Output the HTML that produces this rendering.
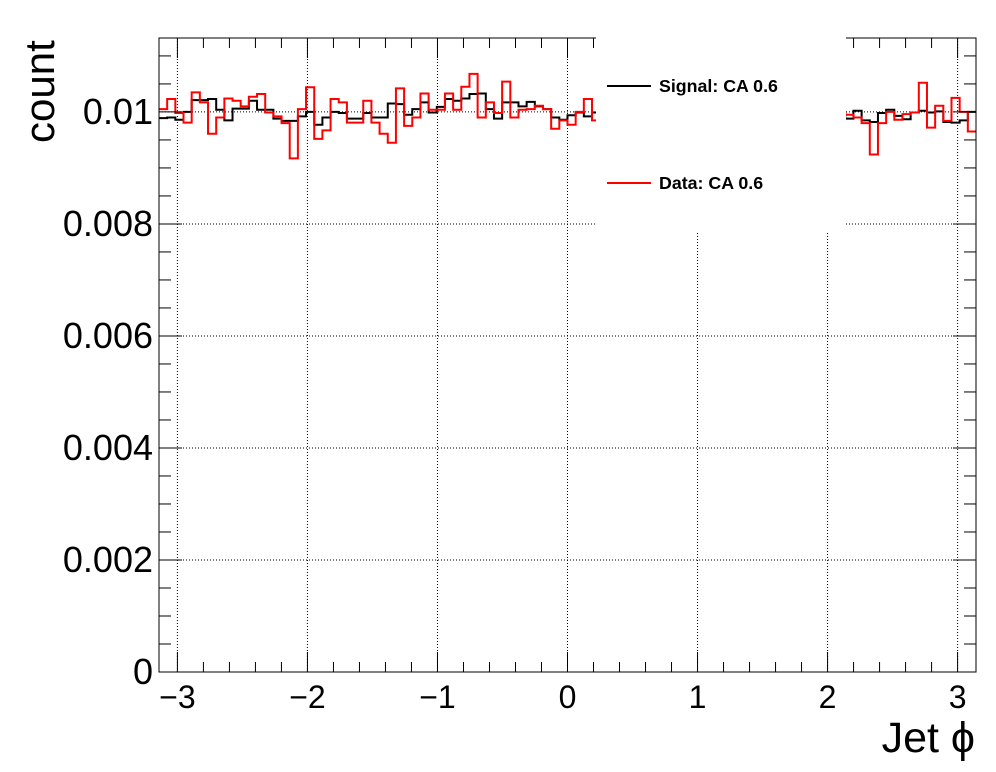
<!DOCTYPE html>
<html><head><meta charset="utf-8"><style>
body{margin:0;background:#fff;}
svg{display:block;font-family:"Liberation Sans",sans-serif;}
</style></head><body>
<svg id="chart" width="996" height="772">
<g id="grid"></g>
<g id="series"></g>
<g id="axes"></g>
<g>
<rect x="596" y="37" width="250" height="194" fill="#fff"/>
<g>
<line x1="607" y1="86" x2="651" y2="86" stroke="#000" stroke-width="2"/>
<text x="659" y="92" font-size="17.8" font-weight="bold">Signal: CA 0.6</text></g>
<g>
<line x1="607" y1="183" x2="651" y2="183" stroke="#f00" stroke-width="2"/>
<text x="659" y="189" font-size="17.8" font-weight="bold">Data: CA 0.6</text></g>
</g>
<text x="975" y="752" font-size="43" text-anchor="end">Jet ϕ</text>
<text transform="translate(54,143) rotate(-90)" font-size="42">count</text>
</svg>
<script>
const signalValues=[0.00989,0.0099,0.00986,0.01,0.01021,0.01021,0.01023,0.01004,0.00985,0.01006,0.01006,0.0102,0.01004,0.01004,0.00988,0.00984,0.00984,0.00992,0.01,0.00977,0.0099,0.01,0.00998,0.00988,0.00988,0.00998,0.0099,
0.0099,0.01015,0.01014,0.00995,0.01005,0.01017,0.00999,0.01009,0.01023,0.0102,0.01024,0.01032,0.01033,0.01005,0.00988,0.01017,0.01017,0.0101,0.01018,0.0101,0.01005,0.0099,0.00986,0.00994,0.00999,0.00992,0.00999,
0.01,0.01,0.01,0.01,0.01,0.01,0.01,0.01,0.01,0.01,0.01,0.01,0.01,0.01,0.01,0.01,0.01,0.01,0.01,0.01,0.01,0.01,0.01,0.01,0.01,0.01,0.01,0.01,0.01,0.01,
0.00988,0.01002,0.00985,0.00982,0.00998,0.01004,0.00993,0.00987,0.00999,0.01002,0.00999,0.01001,0.00982,0.00981,0.00985,0.01];
const dataValues=[0.01005,0.01023,0.00998,0.00981,0.01035,0.01017,0.00961,0.0099,0.01024,0.0102,0.0101,0.01027,0.01032,0.00999,0.00992,0.0098,0.00917,0.01005,0.01044,0.00952,0.00967,0.01023,0.01017,0.00981,0.00981,0.0102,0.00981,
0.00961,0.00945,0.01042,0.00975,0.0099,0.01033,0.01004,0.01004,0.01033,0.01004,0.01045,0.01068,0.0099,0.01017,0.00998,0.01054,0.0099,0.01004,0.01005,0.01011,0.01005,0.0097,0.00985,0.00977,0.01,0.01023,0.00985,
0.01,0.01,0.01,0.01,0.01,0.01,0.01,0.01,0.01,0.01,0.01,0.01,0.01,0.01,0.01,0.01,0.01,0.01,0.01,0.01,0.01,0.01,0.01,0.01,0.01,0.01,0.01,0.01,0.01,0.01,
0.00995,0.0099,0.0098,0.00924,0.0098,0.01,0.00986,0.00996,0.00999,0.01052,0.00972,0.01011,0.00984,0.01025,0.01,0.00965];
const xTicks=[-3,-2,-1,0,1,2,3];
const yTicks=[0,0.002,0.004,0.006,0.008,0.01];
const yTickLabels=["0","0.002","0.004","0.006","0.008","0.01"];
const X0=159,X1=976,Y0=672,Y1=38,XMIN=-Math.PI,XMAX=Math.PI,YMIN=0,YMAX=0.01132;
const sx=v=>X0+(v-XMIN)/(XMAX-XMIN)*(X1-X0);
const sy=v=>Y0-(v-YMIN)/(YMAX-YMIN)*(Y0-Y1);
const NS="http://www.w3.org/2000/svg";
function mk(p,t,a){const e=document.createElementNS(NS,t);for(const k in a)e.setAttribute(k,a[k]);p.appendChild(e);return e;}
const grid=document.getElementById('grid'),ser=document.getElementById('series'),ax=document.getElementById('axes');
xTicks.forEach(t=>{const l=mk(grid,'line',{x1:sx(t),x2:sx(t),y1:Y0,y2:Y1,stroke:'#000','stroke-width':1,'stroke-dasharray':'1,2'});

});
yTicks.forEach(t=>{if(t===0)return;const l=mk(grid,'line',{x1:X0,x2:X1,y1:sy(t),y2:sy(t),stroke:'#000','stroke-width':1,'stroke-dasharray':'1,2'});

});
function hist(vals,color,name){const n=vals.length,w=(XMAX-XMIN)/n;let d='';
vals.forEach((v,i)=>{const xa=sx(XMIN+i*w),xb=sx(XMIN+(i+1)*w),y=sy(v);d+=(i===0?'M':'L')+xa+','+y+'L'+xb+','+y;});
const p=mk(ser,'path',{d:d,fill:'none',stroke:color,'stroke-width':2});

}
hist(signalValues,'#000','signal-series');
hist(dataValues,'#f00','data-series');
const fr=mk(ax,'rect',{x:X0,y:Y1,width:X1-X0,height:Y0-Y1,fill:'none',stroke:'#000','stroke-width':1});


for(let k=-16;k<=16;k++){const v=k*0.2;if(v<XMIN||v>XMAX)continue;const maj=k%5===0,len=maj?20:10,x=sx(v);
mk(ax,'line',{x1:x,x2:x,y1:Y0,y2:Y0-len,stroke:'#000'});mk(ax,'line',{x1:x,x2:x,y1:Y1,y2:Y1+len,stroke:'#000'});}
xTicks.forEach(t=>{const tx=mk(ax,'text',{x:sx(t),y:708,'font-size':32,'text-anchor':'middle'});tx.textContent=t<0?'\u2212'+(-t):String(t);

});
for(let k=0;k<=22;k++){const v=k*0.0005;if(v>YMAX)break;const maj=k%4===0,len=maj?23:12,y=sy(v);
mk(ax,'line',{x1:X0,x2:X0+len,y1:y,y2:y,stroke:'#000'});mk(ax,'line',{x1:X1,x2:X1-len,y1:y,y2:y,stroke:'#000'});}
yTicks.forEach((t,i)=>{const tx=mk(ax,'text',{x:153,y:sy(t)+12,'font-size':36,'text-anchor':'end'});tx.textContent=yTickLabels[i];

});
</script>
</body></html>
